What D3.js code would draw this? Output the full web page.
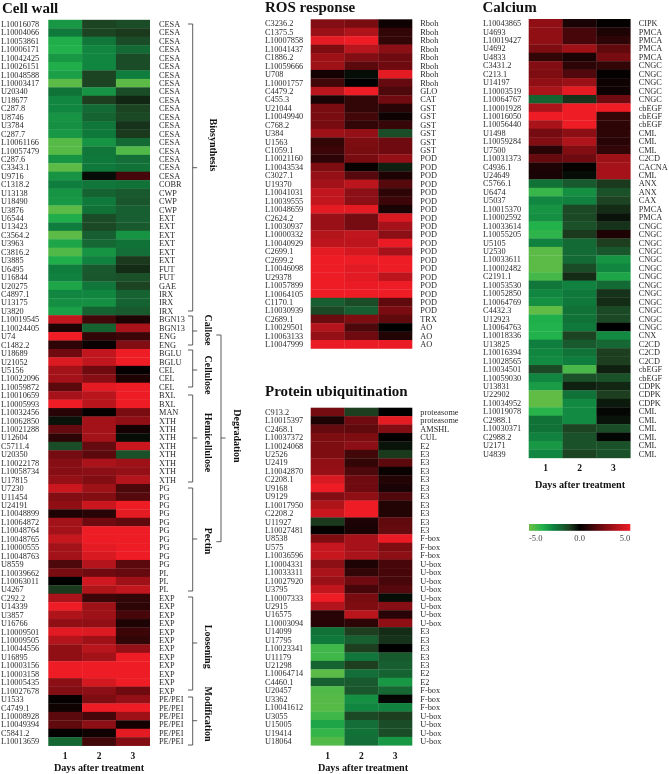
<!DOCTYPE html>
<html><head><meta charset="utf-8">
<script src="https://cdnjs.cloudflare.com/ajax/libs/d3/7.8.5/d3.min.js"></script>
<style>html,body{margin:0;padding:0;background:#fff}svg{display:block;filter:blur(0.3px)}text{font-family:"Liberation Serif","Times New Roman",serif}</style>
</head><body><svg id="c" width="669" height="774"></svg>
<script>
// ---- Data: gene, family, log2 fold change at day 1, 2, 3 ----
const days = ["1","2","3"];
const axisTitle = "Days after treatment";
const legendTicks = [-5,0,5];

const cellWallGenes = ["L10016078","L10004066","L10053861","L10006171","L10042425","L10026151","L10048588","L10003417","U20340","U18677","C287.8","U8746","U3784","C287.7","L10061166","L10057479","C287.6","C3343.1","U9716","C1318.2","U13138","U18490","U3876","U6544","U13423","C3564.2","U3963","C3816.2","U3885","U6495","U16844","U20275","C4897.1","U13175","U3820","L10019545","L10024405","U74","C1482.2","U18689","U21052","U5156","L10022096","L10059872","L10010659","L10005993","L10032456","L10062850","L10021288","U12604","C5711.4","U20350","L10022178","L10058734","U17815","U7230","U11454","U24191","L10048899","L10064872","L10048764","L10048765","L10000555","L10048763","U8559","L10039662","L10063011","U4267","C292.2","U14339","U3857","U16766","L10009501","L10009505","L10044556","U16895","L10003156","L10003158","L10005435","L10027678","U1533","C4749.1","L10008928","L10049394","C5841.2","L10013659"];
const cellWallFamilies = ["CESA","CESA","CESA","CESA","CESA","CESA","CESA","CESA","CESA","CESA","CESA","CESA","CESA","CESA","CESA","CESA","CESA","CESA","CESA","COBR","CWP","CWP","CWP","EXT","EXT","EXT","EXT","EXT","EXT","FUT","FUT","GAE","IRX","IRX","IRX","BGN13","BGN13","ENG","ENG","BGLU","BGLU","CEL","CEL","CEL","BXL","BXL","MAN","XTH","XTH","XTH","XTH","XTH","XTH","XTH","XTH","PG","PG","PG","PG","PG","PG","PG","PG","PG","PG","PL","PL","PL","EXP","EXP","EXP","EXP","EXP","EXP","EXP","EXP","EXP","EXP","EXP","EXP","PE/PEI","PE/PEI","PE/PEI","PE/PEI","PE/PEI","PE/PEI"];
const cellWallValues = [[-3.1,-1.1,-1.3],[-2.4,-1.1,-0.9],[-3.6,-2.3,-1.3],[-3.7,-2.7,-2.0],[-3.1,-2.7,-1.3],[-3.6,-2.7,-1.3],[-3.3,-1.1,-2.5],[-4.7,-1.1,-4.7],[-2.2,-3.0,-1.3],[-2.7,-1.0,-0.6],[-2.7,-2.0,-1.1],[-3.0,-1.8,-1.2],[-2.9,-2.3,-0.8],[-3.1,-2.4,-0.9],[-4.6,-3.0,-2.0],[-4.6,-2.3,-4.5],[-3.0,-2.4,-2.1],[-4.7,-2.4,-2.2],[-3.0,-0.2,1.4],[-2.5,-2.3,-2.2],[-3.0,-1.8,-1.6],[-3.1,-2.4,-1.5],[-4.7,-2.2,-1.7],[-3.6,-1.3,-1.7],[-2.5,-1.2,-1.6],[-4.7,-1.7,-3.0],[-3.4,-1.9,-2.2],[-4.5,-3.0,-2.1],[-3.6,-2.6,-0.9],[-2.5,-1.6,-0.7],[-2.6,-1.5,-1.4],[-3.4,-2.3,-1.1],[-2.7,-2.7,-1.8],[-2.9,-2.9,-1.8],[-3.3,-1.8,-1.6],[4,1.3,0.6],[0.6,-1.8,3.5],[5,1,1.2],[0.9,0.2,2.6],[2.2,4,5],[4.6,4,5],[3.3,2.2,0.1],[3.3,2.7,0.6],[1.8,4.8,5],[3.4,3.8,5],[5,3.8,5],[0.8,0.1,2.4],[-0.3,3.3,2.9],[2,3.3,0.4],[0.9,3.3,-0.2],[-1.3,2,4.2],[2.3,1.8,-1.4],[2.7,3.5,3.2],[2.7,2.8,3],[3,2.6,3.7],[4.2,3.2,1.5],[2.6,2.6,1.7],[2.9,4.2,5],[0.6,0.8,4.8],[3.3,2.2,1.9],[3.3,5,5],[4.1,5,5],[3.3,4.8,5],[3.3,4.5,5],[1.5,3.7,1.8],[2.4,2.2,2],[0,4.3,3.2],[-0.9,3.6,4],[3.5,1.2,1],[5,3.2,0.9],[3.6,3.2,1.4],[2.9,2.9,0.6],[4.7,4.6,1.2],[3.7,3.2,1],[2.9,3.8,3],[2.9,3.3,5],[5,5,5],[5,5,5],[2.8,4.4,5],[2.6,2.8,2.2],[0.1,2.5,3],[0.3,5,5],[1.8,1.4,3.2],[1.9,2.8,0.4],[0.1,0.3,4.8],[-1.9,1.3,2.6]];

const rosGenes = ["C3236.2","C1375.5","L10007858","L10041437","C1886.2","L10059666","U708","L10001757","C4479.2","C455.3","U21044","L10049940","C768.2","U384","U1563","C1059.1","L10021160","L10043534","C3027.1","U19370","L10041031","L10039555","L10048659","C2624.2","L10030937","L10000332","L10040929","C2699.1","C2699.2","L10046098","U29378","L10057899","L10064105","C1170.1","L10030939","C2689.1","L10029501","L10063133","L10047999"];
const rosFamilies = ["Rboh","Rboh","Rboh","Rboh","Rboh","Rboh","Rboh","Rboh","GLO","CAT","GST","GST","GST","GST","GST","GST","POD","POD","POD","POD","POD","POD","POD","POD","POD","POD","POD","POD","POD","POD","POD","POD","POD","POD","POD","TRX","AO","AO","AO"];
const rosValues = [[2.6,2.4,0.3],[3.1,3.6,1],[4.8,5,1],[2.5,3.8,2.8],[3.2,2.6,2.2],[3.2,1.8,2.2],[0.4,-0.2,4.8],[1.3,0,2],[3.8,5,1.5],[0.5,1,2.2],[2.4,1,0.8],[2.4,1.3,0.3],[2.4,1,1.1],[3.2,3,-1.3],[1,2.5,2.2],[1.2,2.4,2.2],[0.9,2.4,3],[2.5,0.2,-0.5],[3,1.7,0.6],[3.3,3.9,1.7],[4,2.8,0.9],[4,2.8,1.2],[4.8,4.8,0.5],[3.1,2.3,4.5],[3.1,2.3,3.4],[3.7,4,2.8],[3.9,3.9,4.9],[4.8,4.4,3.4],[5,5,5],[5,4.7,5],[5,4.7,3.9],[5,4.9,5],[5,5,5],[-1.7,-1.3,1.9],[-1.2,-1.7,2.4],[2.1,2.5,1.9],[3.7,1.5,0],[3,2.2,0.7],[4.9,4.9,4.9]];

const ubqGenes = ["C913.2","L10015397","C2468.1","L10037372","L10024068","U2526","U2419","L10042870","C2208.1","U9168","U9129","L10017950","C2208.2","U11927","L10027481","U8538","U575","L10036596","L10004331","L10033311","L10027920","U3795","L10007333","U2915","U16575","L10003094","U14099","U17795","L10023341","U11179","U21298","L10064714","C4460.1","U20457","U3362","L10041612","U3055","U15005","U19414","U18064"];
const ubqFamilies = ["proteasome","proteasome","AMSHL","CUL","E2","E3","E3","E3","E3","E3","E3","E3","E3","E3","E3","F-box","F-box","F-box","U-box","U-box","U-box","U-box","U-box","U-box","U-box","U-box","E3","E3","E3","E3","E3","E2","E2","F-box","F-box","F-box","U-box","U-box","U-box","U-box"];
const ubqValues = [[2.3,-1,0],[0.6,2.2,4.8],[2,1.9,2.6],[2.5,2.5,0.1],[2.5,2.8,-0.3],[2.5,1.3,-0.9],[2.9,1,1.8],[3,1.5,0.2],[4.5,2.2,0.7],[5,2.2,0.5],[2.6,2.9,1.6],[3.6,5,0.7],[4.2,5,0.7],[-0.9,0.6,1.9],[0.1,0.5,2],[2.5,3.4,4.9],[4.1,3.4,2.5],[4.1,3.5,2.8],[2.8,0.6,1.4],[3.5,1,1.4],[3.1,2.2,1.4],[4,1.4,1.7],[5,2.4,-0.2],[3.7,2.5,2.7],[0.8,3.8,0.8],[0.8,0.9,2.9],[-2.2,-1,-0.7],[-2.4,-1.7,-0.8],[-4.2,-1,0],[-4.2,-2.3,-1.6],[-1.8,-1,-1.7],[-4.7,-2.1,-1.8],[-1.7,-1.6,-3.1],[-4.5,-1.5,-1.9],[-4.6,-2.9,-0.1],[-4.6,-2.7,-2.6],[-4.2,-1.2,-1],[-3.4,-2.1,-1.3],[-4,-2.2,-1.3],[-4.5,-2.1,-3.1]];

const calciumGenes = ["L10043865","U4693","L10019427","U4692","U4833","C3431.2","C213.1","U14197","L10003519","L10064767","L10001928","L10016050","L10056440","U1498","L10059284","U7500","L10031373","C4936.1","U24649","C5766.1","U6474","U5037","L10015370","L10002592","L10033614","L10055205","U5105","U2530","L10033611","L10002482","C2191.1","L10053530","L10052850","L10064769","C4432.3","U12923","L10064763","L10018336","U13825","L10016394","L10028565","L10034501","L10059030","U13831","U22902","L10034952","L10019078","C2988.1","L10030371","C2988.2","U2171","U4839"];
const calciumFamilies = ["CIPK","PMCA","PMCA","PMCA","PMCA","CNGC","CNGC","CNGC","CNGC","CNGC","cbEGF","cbEGF","cbEGF","CML","CML","CML","C2CD","CACNA","CML","ANX","ANX","CAX","PMCA","PMCA","CNGC","CNGC","CNGC","CNGC","CNGC","CNGC","CNGC","CNGC","CNGC","CNGC","CNGC","CNGC","CNGC","CNX","C2CD","C2CD","C2CD","cbEGF","cbEGF","CDPK","CDPK","CDPK","CML","CML","CML","CML","CML","CML"];
const calciumValues = [[2.9,0.5,0.1],[2.9,1.4,0.6],[2.9,1.4,0.9],[2.5,3.2,1.9],[1,0.5,2.4],[2.6,0.9,1],[2.5,1.6,0.1],[2.9,3.1,0.3],[3.5,4.8,0.3],[-1.8,-0.8,2.2],[3.5,5,5],[5,5,1],[3.5,5,0.9],[2.3,2.8,0.9],[2.6,3.6,0.8],[0.8,2.6,1],[2,2.2,3.2],[0.6,0.1,3.4],[0.5,-0.2,3.4],[-2.2,-1.6,-0.9],[-4.1,-2.9,-1.4],[-2.7,-2.6,-1.1],[-3.0,-1.2,-0.7],[-2.9,-1.2,-0.3],[-3.7,-1.4,-0.8],[-3.9,-0.9,0.6],[-2.6,-2,-1],[-4.7,-2,-1.5],[-4.7,-2,-3],[-4.7,-1.3,-2.7],[-4.3,-0.7,-3.4],[-2.3,-2.6,-2],[-2.7,-2.4,-0.8],[-2.9,-2.4,-0.7],[-4.8,-2.2,-1.2],[-3.6,-2.2,-1.2],[-3.7,-2.4,0],[-3.7,-1.1,-2.8],[-2.5,-1.6,-1.9],[-2.7,-2.2,-1],[-2.8,-2.5,-1],[-1.2,-4.4,-0.5],[-2.7,-1.4,-1.4],[-3.2,-0.5,-0.6],[-4.8,-2.2,-1],[-4.8,-2.8,-0.4],[-3.8,-2.8,-0.1],[-2.2,-2.8,-0.3],[-2.2,-1.1,-1.3],[-2.6,-1.4,-0.1],[-3.1,-1.4,-1.4],[-2.7,-1.1,-1.4]];

// ---- Colour scale ----
const colorStops = [-5,-3.7,-2.5,-1.7,-1,0,2.5,5];
const colorValues = ["#6dbe45","#22b24c","#0e7d3d","#175f30","#1d3f20","#000000","#7e0d12","#ee1c25"];
const color = d3.scaleLinear().domain(colorStops).range(colorValues).clamp(true);

// ---- Layout ----
const svg = d3.select("#c");
const TXT = "#2a2a2a", PITCH = 8.44;
const panels = [
 {title:"Cell wall", tx:2, ty:12.5, genes:cellWallGenes, fam:cellWallFamilies, vals:cellWallValues, x0:48.3,x1:149.7,top:19.8, gx:1, fx:159, digY:758.5, labY:770.5, labX:99},
 {title:"ROS response", tx:265, ty:12, genes:rosGenes, fam:rosFamilies, vals:rosValues, x0:310.7,x1:412,top:19.3, gx:265, fx:420.3},
 {title:"Protein ubiquitination", tx:265, ty:396, genes:ubqGenes, fam:ubqFamilies, vals:ubqValues, x0:310.7,x1:412,top:407.7, gx:265, fx:420.3, digY:758.5, labY:770.5, labX:363},
 {title:"Calcium", tx:482.5, ty:12, genes:calciumGenes, fam:calciumFamilies, vals:calciumValues, x0:528.7,x1:630.3,top:19, gx:483, fx:638.7, digY:471, labY:488, labX:580},
];

panels.forEach(p=>{
  const g = svg.append("g");
  const x = d3.scaleBand().domain(days).range([p.x0,p.x1]);
  const y = d3.scaleBand().domain(p.genes).range([p.top,p.top+PITCH*p.genes.length]);
  g.append("text").attr("x",p.tx).attr("y",p.ty).attr("font-size",15).attr("font-weight","bold").attr("fill","#111").text(p.title);
  const rows = g.selectAll("g.r").data(p.genes).join("g").attr("class","r");
  rows.each(function(gene,i){
    const r = d3.select(this);
    r.selectAll("rect").data(days).join("rect")
      .attr("x",d=>x(d)).attr("y",y(gene)).attr("width",x.bandwidth()+.3).attr("height",y.bandwidth()+.3)
      .attr("fill",(d,j)=>color(p.vals[i][j]));
    const cy = y(gene)+y.bandwidth()/2+2.9;
    r.append("text").attr("x",p.gx).attr("y",cy).attr("font-size",8.3).attr("fill",TXT).text(gene);
    r.append("text").attr("x",p.fx).attr("y",cy).attr("font-size",8.3).attr("fill",TXT).text(p.fam[i]);
  });
  if(p.digY){
    g.selectAll("text.d").data(days).join("text").attr("class","d")
      .attr("x",d=>x(d)+x.bandwidth()/2).attr("y",p.digY).attr("text-anchor","middle")
      .attr("font-size",9.5).attr("font-weight","bold").attr("fill","#111").text(d=>d);
    g.append("text").attr("x",p.labX).attr("y",p.labY).attr("text-anchor","middle")
      .attr("font-size",10.2).attr("font-weight","bold").attr("fill","#111").text(axisTitle);
  }
});

// ---- Brackets on the cell wall panel ----
const brackets = [
 {name:"Biosynthesis",x:192.7,y0:24,y1:311,tick:167.7,lx:213,ly:145},
 {name:"Callose",x:192.7,y0:316,y1:345,tick:331,lx:207.5,ly:330},
 {name:"Cellulose",x:192.7,y0:350,y1:387,tick:370,lx:207.5,ly:375},
 {name:"Hemicellulose",x:192.7,y0:395,y1:482,tick:438,lx:207.5,ly:442.5},
 {name:"Pectin",x:192.7,y0:488,y1:591,tick:539,lx:207.5,ly:541},
 {name:"Loosening",x:192.7,y0:597,y1:690,tick:643,lx:207.5,ly:646.7},
 {name:"Modification",x:192.7,y0:697,y1:745,tick:720.7,lx:208,ly:714},
 {name:"Degradation",x:221,y0:335,y1:541.7,tick:438,lx:236.7,ly:436},
];
const bg = svg.append("g");
const bracketPath = b=>`M${b.x-4.7},${b.y0}H${b.x}V${b.y1}H${b.x-4.7}M${b.x},${b.tick}H${b.x+4.5}`;
bg.selectAll("path").data(brackets).join("path").attr("d",bracketPath).attr("fill","none").attr("stroke","#333").attr("stroke-width",.8);
bg.selectAll("text").data(brackets).join("text")
  .attr("transform",b=>`translate(${b.lx},${b.ly}) rotate(90)`)
  .attr("text-anchor","middle").attr("dy","0.3em").attr("font-size",10).attr("font-weight","bold").attr("fill","#111").text(b=>b.name);

// ---- Colour legend ----
const defs = svg.append("defs");
const grad = defs.append("linearGradient").attr("id","lg");
const legendX = d3.scaleLinear().domain([-5,5]).range([529,630.3]);
colorStops.forEach((s,i)=>grad.append("stop").attr("offset",(s+5)/10).attr("stop-color",colorValues[i]));
svg.append("rect").attr("x",529).attr("y",524).attr("width",101.3).attr("height",6.8).attr("fill","url(#lg)");
svg.selectAll("text.lt").data(legendTicks).join("text").attr("class","lt")
  .attr("x",d=>legendX(d)).attr("y",541).attr("font-size",8.5).attr("fill","#444")
  .attr("text-anchor",d=>d<0?"start":d>0?"end":"middle").text(d=>d.toFixed(1));
</script></body></html>
